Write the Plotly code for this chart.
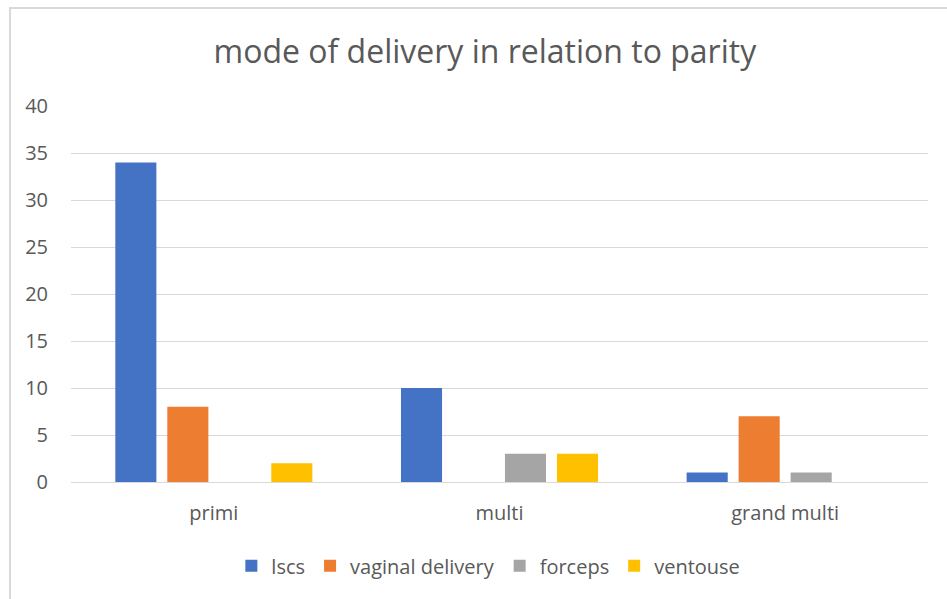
import plotly.graph_objects as go

categories = ["primi", "multi", "grand multi"]
series_names = ["lscs", "vaginal delivery", "forceps", "ventouse"]
lscs = [34, 10, 1]
vaginal_delivery = [8, 0, 7]
forceps = [0, 3, 1]
ventouse = [2, 3, 0]
colors = ["#4472C4", "#ED7D31", "#A5A5A5", "#FFC000"]
y_ticks = [0, 5, 10, 15, 20, 25, 30, 35, 40]

values = [lscs, vaginal_delivery, forceps, ventouse]
FONT = "Open Sans"
GREY = "#595959"

fig = go.Figure()
for name, vals, c in zip(series_names, values, colors):
    fig.add_trace(go.Bar(x=categories, y=vals, name=name, marker=dict(color=c, line=dict(width=0))))

fig.update_layout(
    width=947, height=599,
    margin=dict(l=71, r=19, t=106, b=117),
    paper_bgcolor="white", plot_bgcolor="white",
    barmode="group", bargap=0.272, bargroupgap=0.21,
    font=dict(family=FONT, color=GREY, size=20),
    title=dict(text="mode of delivery in relation to parity", x=0.512, xanchor="center",
               y=1 - 52 / 599, yanchor="middle", font=dict(family=FONT, size=32, color=GREY)),
    legend=dict(orientation="h", x=0.487, xanchor="center", y=-0.223, yanchor="middle",
                font=dict(family=FONT, size=20, color=GREY), itemwidth=30, traceorder="normal"),
    xaxis=dict(showgrid=False, showline=False, ticks="", ticklabelstandoff=17,
               tickfont=dict(size=20, color=GREY)),
    yaxis=dict(range=[0, 40], tickvals=y_ticks, showgrid=True, gridcolor="#D9D9D9", gridwidth=1,
               zeroline=True, zerolinecolor="#D9D9D9", zerolinewidth=1, showline=False, ticks="",
               ticklabelstandoff=22, tickfont=dict(size=20, color=GREY)),
    shapes=[dict(type="path", xref="paper", yref="paper",
                 path="M -0.0712 -0.32 L -0.0712 1.2606 L 1.03 1.2606",
                 line=dict(color="#D9D9D9", width=2))],
)

fig.write_html("out.html")
